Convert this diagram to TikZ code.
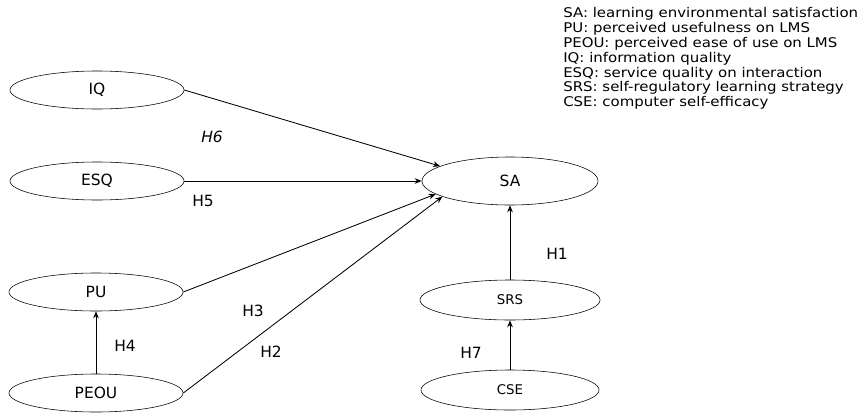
\documentclass[tikz,border=0pt]{standalone}
\usepackage{fontspec}
\setmainfont{DejaVu Sans}
\newfontfamily\legendfont[FakeStretch=1.12]{DejaVu Sans}
\usetikzlibrary{shapes.geometric, arrows.meta, positioning}

\begin{document}
\begin{tikzpicture}[x=0.025cm, y=-0.025cm,
  construct/.style={draw, ellipse, inner sep=0pt, minimum width=4.35cm, minimum height=0.95cm,
    font=\fontsize{11}{13}\selectfont},
  link/.style={-{Stealth[length=5pt,width=4pt]}, semithick},
  hyp/.style={font=\fontsize{11}{13}\selectfont}]
\useasboundingbox (0,0) rectangle (866,415);

% Constructs on the left
\node[construct] (IQ) at (97,90) {IQ};
\node[construct] (ESQ) at (97,181) {ESQ};
\node[construct] (PU) at (96,292) {PU};
\node[construct] (PEOU) at (96,393) {PEOU};

% Constructs on the right
\node[construct, minimum width=4.4cm, minimum height=1.2cm] (SA) at (510,181) {SA};
\node[construct, minimum width=4.5cm, minimum height=1cm, font=\fontsize{9.5}{11}\selectfont] (SRS) at (510,300) {SRS};
\node[construct, minimum width=4.45cm, minimum height=1cm, font=\fontsize{9.5}{11}\selectfont] (CSE) at (510,390) {CSE};

% Hypothesised paths
\draw[link] (IQ.east) -- (SA.168);
\draw[link] (ESQ.east) -- (SA.west);
\draw[link] (PU.east) -- (SA.190);
\draw[link] (PEOU.east) -- (SA.193);
\draw[link] (PEOU.north) -- (PU.south);
\draw[link] (SRS.north) -- (SA.south);
\draw[link] (CSE.north) -- (SRS.south);

% Path labels
\node[hyp, font=\fontsize{11}{13}\itshape] (h6) at (212,137) {H6};
\node[hyp] (h5) at (203,201) {H5};
\node[hyp] (h3) at (253,311) {H3};
\node[hyp] (h2) at (271,352) {H2};
\node[hyp] (h4) at (125,346) {H4};
\node[hyp] (h1) at (557,254) {H1};
\node[hyp] (h7) at (471,353) {H7};

% Legend
\node[anchor=north west, align=left, inner sep=0pt, font=\legendfont\fontsize{9.5}{10.6}\selectfont] (legend) at (563,7) {%
SA: learning environmental satisfaction\\
PU: perceived usefulness on LMS\\
PEOU: perceived ease of use on LMS\\
IQ: information quality\\
ESQ: service quality on interaction\\
SRS: self-regulatory learning strategy\\
CSE: computer self-efficacy};
\end{tikzpicture}
\end{document}
